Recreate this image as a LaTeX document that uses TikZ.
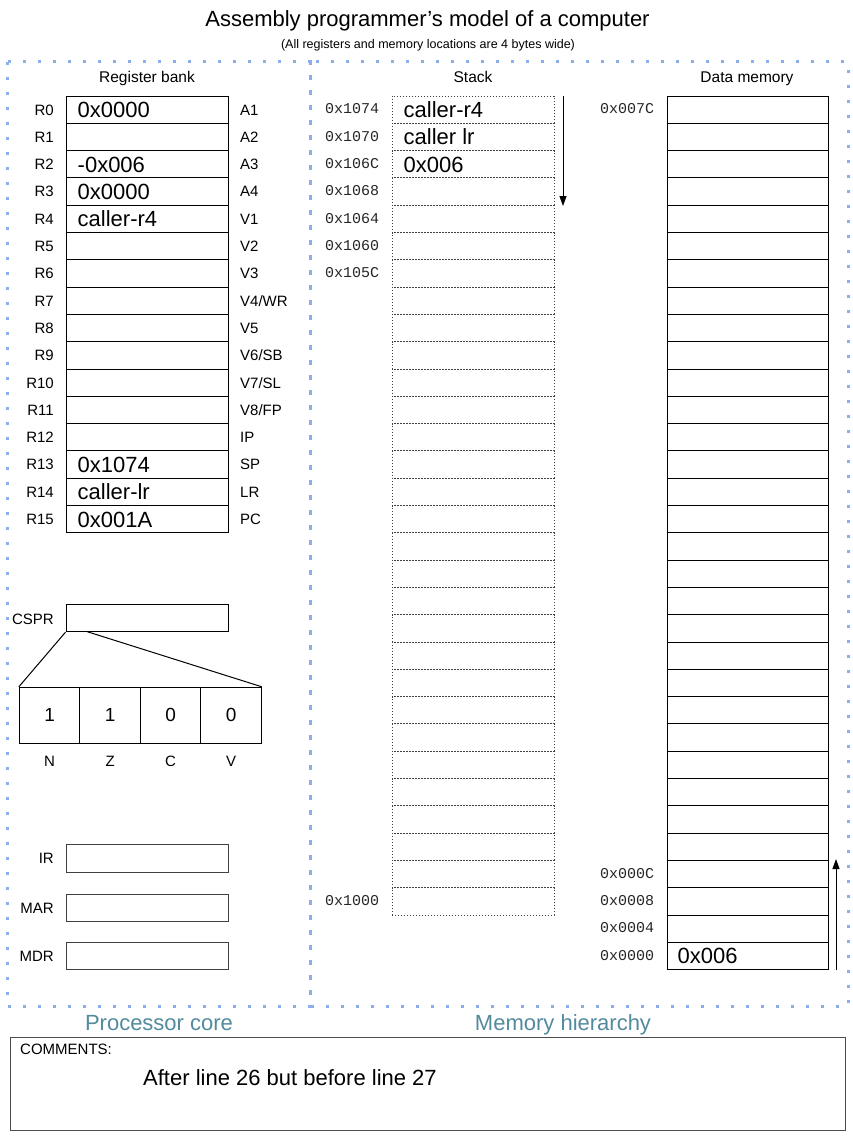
\documentclass[tikz,border=0pt]{standalone}
\usepackage{fontspec}
\setmainfont{Liberation Sans}
\setmonofont{Liberation Mono}
\usepackage{tikz}
\usepackage{xcolor}
\usetikzlibrary{arrows.meta,positioning}

\definecolor{panelblue}{RGB}{140,175,235}
\definecolor{coreteal}{RGB}{82,139,158}

\tikzset{
  cell/.style={draw, line width=1pt, minimum width=162pt, minimum height=27.3pt, inner sep=0pt},
  stackcell/.style={draw=black!75, line width=1pt, dash pattern=on 1pt off 2pt, minimum width=162pt, minimum height=27.3pt, inner sep=0pt},
  flagbox/.style={draw, line width=1pt, minimum width=60.5pt, minimum height=56pt, inner sep=0pt, font=\fontsize{19}{22}\selectfont},
  lbl/.style={font=\fontsize{15}{18}\selectfont, inner sep=0pt, text height=11pt, text depth=0.3pt},
  big/.style={font=\fontsize{22}{26}\selectfont, inner sep=0pt, text height=16pt, text depth=0.2pt},
  addr/.style={font=\ttfamily\fontsize{15}{18}\selectfont, inner sep=0pt, text height=9pt, text depth=0.4pt, text=black!85},
  panel/.style={draw=panelblue, line width=3pt, dash pattern=on 3pt off 12pt},
  growarrow/.style={-{Triangle[length=10pt,width=7pt]}, line width=1pt}
}

\begin{document}
\begin{tikzpicture}[x=1pt,y=-1pt]
        \fill[white] (0,0) rectangle (852,1140);
        \useasboundingbox (0,0) rectangle (852,1140);

        % Titulo
        \node[big] (title) at (427.5,19) {Assembly programmer’s model of a computer};
        \node[font=\fontsize{12.5}{15}\selectfont, inner sep=0pt, text height=9.5pt, text depth=0.5pt] (subtitle) at (428,44) {(All registers and memory locations are 4 bytes wide)};

        % Paneles
        \draw[panel] (7,62) rectangle (310,1006);
        \draw[panel] (310,62) rectangle (848,1006);
        \node[big, text=coreteal] (core) at (159,1022.5) {Processor core};
        \node[big, text=coreteal] (memh) at (563,1022.5) {Memory hierarchy};

        % Banco de registros
        \node[lbl, font=\fontsize{15.5}{18}\selectfont] (bankhead) at (147,77.5) {Register bank};
        \foreach \i/\alias in {0/A1,1/A2,2/A3,3/A4,4/V1,5/V2,6/V3,7/{V4/WR},8/V5,9/{V6/SB},10/{V7/SL},11/{V8/FP},12/IP,13/SP,14/LR,15/PC} {
            \pgfmathsetmacro{\y}{109.65+27.3*\i}
            \node[cell] (r\i) at (147,\y) {};
            \node[lbl, anchor=east] (rl\i) at (54,\y) {R\i};
            \node[lbl, anchor=west] (ra\i) at (240,\y) {\alias};
        }
        \foreach \i/\v in {0/0x0000,2/-0x006,3/0x0000,4/caller-r4,13/0x1074,14/caller-lr,15/0x001A}
            \node[big, anchor=west] (rv\i) at ([xshift=12pt]r\i.west) {\v};

        % CSPR y banderas
        \node[cell] (cspr) at (147,618) {};
        \node[lbl, anchor=east] (csprl) at (54,619) {CSPR};
        \foreach \f/\x/\v in {N/49.6/1,Z/110.1/1,C/170.6/0,V/231.1/0} {
            \node[flagbox] (flag\f) at (\x,715.3) {\v};
            \node[lbl] (flagl\f) at (\x,761.5) {\f};
        }
        \coordinate (csprtap) at (87.3,631.7);
        \draw[line width=1pt] (cspr.south west) -- (flagN.north west);
        \draw[line width=1pt] (csprtap) -- (flagV.north east);

        % IR, MAR, MDR
        \foreach \r/\y in {IR/858.5,MAR/908,MDR/956.3} {
            \node[cell, draw=black!75] (\r) at (147,\y) {};
            \node[lbl, anchor=east] (\r l) at (54,\y) {\r};
        }

        % Pila
        \node[lbl, font=\fontsize{15.5}{18}\selectfont] (stackhead) at (473,77.5) {Stack};
        \foreach \i in {0,...,29} {
            \pgfmathsetmacro{\y}{109.65+27.3*\i}
            \node[stackcell] (s\i) at (473,\y) {};
        }
        \foreach \i/\a in {0/1074,1/1070,2/106C,3/1068,4/1064,5/1060,6/105C,29/1000} {
            \pgfmathsetmacro{\y}{109.65+27.3*\i}
            \node[addr] (sa\i) at (352,\y) {0x\a};
        }
        \foreach \i/\v in {0/caller-r4,1/caller lr,2/0x006}
            \node[big, anchor=west] (sv\i) at ([xshift=12pt]s\i.west) {\v};
        \coordinate (sgtop) at (563,96);
        \coordinate (sgbot) at (563,206);
        \draw[growarrow] (sgtop) -- (sgbot);

        % Memoria de datos
        \node[lbl, font=\fontsize{15.5}{18}\selectfont] (memhead) at (747,77.5) {Data memory};
        \foreach \i in {0,...,31} {
            \pgfmathsetmacro{\y}{109.65+27.3*\i}
            \node[cell, minimum width=161pt] (m\i) at (747.5,\y) {};
        }
        \foreach \i/\a in {0/007C,28/000C,29/0008,30/0004,31/0000} {
            \pgfmathsetmacro{\y}{109.65+27.3*\i}
            \node[addr] (ma\i) at (627,\y) {0x\a};
        }
        \node[big, anchor=west] (mv31) at ([xshift=11pt]m31.west) {0x006};
        \coordinate (dgbot) at (836,970);
        \coordinate (dgtop) at (836,859);
        \draw[growarrow] (dgbot) -- (dgtop);

        % Comentarios
        \node[draw=black!70, line width=1pt, minimum width=835pt, minimum height=93pt, inner sep=0pt] (cbox) at (427.5,1083.5) {};
        \node[lbl, anchor=west] (ctitle) at (20,1049) {COMMENTS:};
        \node[big, anchor=west] (ctext) at (143,1077.5) {After line 26 but before line 27};
    \end{tikzpicture}
\end{document}
